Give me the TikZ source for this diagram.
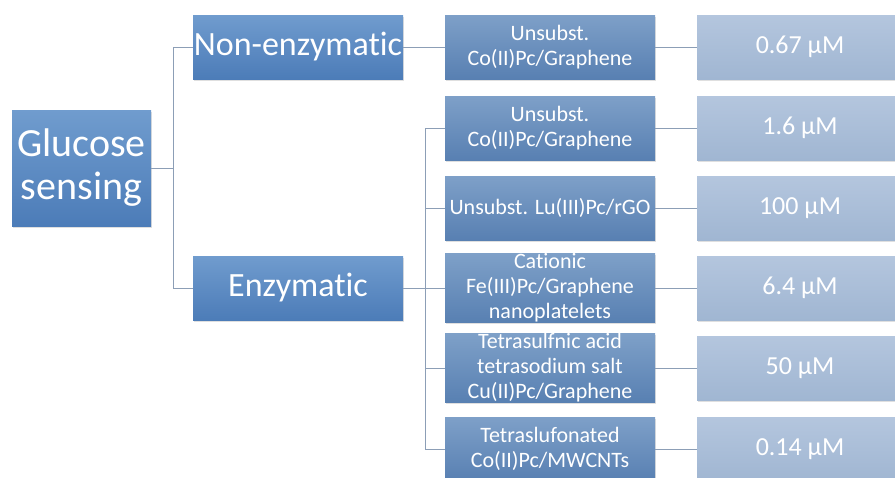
\documentclass[tikz,border=0pt]{standalone}
\usepackage{fontspec}
\setmainfont[Ligatures=NoCommon]{Carlito}
\usetikzlibrary{shadows}
\definecolor{boxtop}{RGB}{112,156,206}
\definecolor{boxbot}{RGB}{76,124,184}
\definecolor{midtop}{RGB}{126,160,200}
\definecolor{midbot}{RGB}{88,128,178}
\definecolor{valtop}{RGB}{180,198,222}
\definecolor{valbot}{RGB}{160,182,210}
\definecolor{linkgray}{RGB}{140,158,182}
\tikzset{
   boxbase/.style={inner sep=0pt, align=center, text=white,
      drop shadow={opacity=0.25, shadow xshift=1.2pt, shadow yshift=-1.5pt}},
   topbox/.style={boxbase, top color=boxtop, bottom color=boxbot},
   midbox/.style={boxbase, top color=midtop, bottom color=midbot,
      minimum width=210pt, minimum height=64pt,
      font=\fontsize{22}{25}\selectfont},
   valbox/.style={boxbase, top color=valtop, bottom color=valbot,
      minimum width=206pt, minimum height=64pt,
      font=\fontsize{26}{30}\selectfont},
   link/.style={draw=linkgray, line width=0.8pt}
}
\begin{document}
\begin{tikzpicture}[x=1pt, y=-1pt]
   \useasboundingbox (0,0) rectangle (895,477);
   \begin{scope}
      % left part
      \node[topbox, minimum width=139pt, minimum height=116pt,
         font=\fontsize{40}{43}\selectfont] (root) at (81.5,168) {Glucose\\sensing};
      \node[topbox, minimum width=210pt, minimum height=64pt,
         font=\fontsize{34}{38}\selectfont] (nonenz) at (298,47) {Non-enzymatic};
      \node[topbox, minimum width=210pt, minimum height=64pt,
         font=\fontsize{34}{38}\selectfont] (enz) at (298,288) {Enzymatic};
      \coordinate (rootfork) at (173,168);
      \path[link] (root) -- (rootfork);
      \path[link] (rootfork) |- (nonenz);
      \path[link] (rootfork) |- (enz);
   \end{scope}
   \begin{scope}
      \def \Materials {
         m1/47/{Unsubst.\\Co(II)Pc/Graphene}/v1/{0.67 µM},
         m2/128/{Unsubst.\\Co(II)Pc/Graphene}/v2/{1.6 µM},
         m3/208/{Unsubst. Lu(III)Pc/rGO}/v3/{100 µM},
         m4/288/{Cationic\\Fe(III)Pc/Graphene\\nanoplatelets}/v4/{6.4 µM},
         m5/368/{Tetrasulfnic acid\\tetrasodium salt\\Cu(II)Pc/Graphene}/v5/{50 µM},
         m6/449/{Tetraslufonated\\Co(II)Pc/MWCNTs}/v6/{0.14 µM}}
      \foreach \m / \y / \t / \v / \c in \Materials {
         \node[midbox] (\m) at (550,\y) {\t};
         \node[valbox] (\v) at (800,\y) {\c};
         \path[link] (\m) -- (\v);
      }
      \coordinate (enzfork) at (425,288);
      \path[link] (nonenz) -- (m1);
      \path[link] (enz) -- (enzfork);
      \foreach \m in {m2,m3,m4,m5,m6} {
         \path[link] (enzfork) |- (\m);
      }
   \end{scope}
\end{tikzpicture}
\end{document}
